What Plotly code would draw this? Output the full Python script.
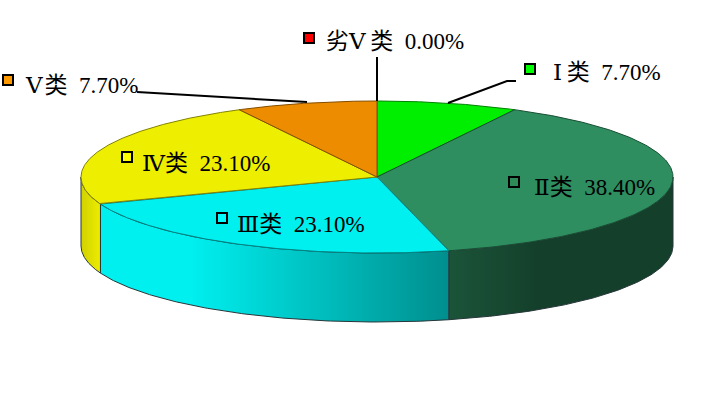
"""
3D style pie of water quality classes, drawn as filled scatter polygons
because plotly has no tilted pie.
"""

import numpy as np
import plotly.graph_objects as go

categories = ["Ⅰ\u2009类", "Ⅱ类", "Ⅲ类", "Ⅳ类", "Ⅴ\u200a类", "劣Ⅴ\u2009类"]
shares = [7.7, 38.4, 23.1, 23.1, 7.7, 0.0]
top_colors = ["#00ee00", "#2e8e60", "#00f0f0", "#eeee00", "#ee8c00", "#ee0000"]
key_colors = ["#00ff00", "#2e8b57", "#00ffff", "#ffff00", "#ff9900", "#ff0000"]

# pie geometry, in picture pixels
CX, CY = 377, 177
RX, RY = 296, 76
DEPTH = 69

# where each label goes: key square x, y then text x, y
label_pos = [
    (530, 69, 551, 72),
    (514, 182, 532, 187),
    (222, 218, 235, 224),
    (127, 157, 140, 163),
    (8, 80, 23, 85),
    (309, 38, 324, 41),
]

leaders = [
    ([448, 507, 516], [103, 81, 81]),
    ([137, 307], [92, 102]),
    ([377, 377], [57, 101]),
]


def rim(deg):
    rad = np.radians(deg)
    return CX + RX * np.sin(rad), CY - RY * np.cos(rad)


def to_rgb(hex_color):
    return [int(hex_color[i : i + 2], 16) for i in (1, 3, 5)]


def shade(hex_color, x):
    # side wall gets darker going to the right, flat at the far right
    k = np.interp(x, [81, 101, 190, 540], [0.88, 1.0, 1.0, 0.45])
    return "rgb({},{},{})".format(*[int(c * k) for c in to_rgb(hex_color)])


def darker(hex_color, k=0.55):
    return "rgb({},{},{})".format(*[int(c * k) for c in to_rgb(hex_color)])


def main():
    fig = go.Figure()
    ends = np.cumsum(shares) / sum(shares) * 360
    starts = np.concatenate([[0], ends[:-1]])

    # side wall, only the front half of the pie shows
    for start, end, color in zip(starts, ends, top_colors):
        a, b = max(start, 90), min(end, 270)
        if b <= a:
            continue
        x, y = rim(np.linspace(a, b, 120))
        lo, hi = x.min(), x.max()
        stops = np.linspace(0, 1, 24)
        fig.add_trace(
            go.Scatter(
                x=np.concatenate([x, x[::-1], x[:1]]),
                y=np.concatenate([y, y[::-1] + DEPTH, y[:1]]),
                mode="lines",
                fill="toself",
                fillgradient=dict(
                    type="horizontal",
                    start=lo,
                    stop=hi,
                    colorscale=[[s, shade(color, lo + s * (hi - lo))] for s in stops],
                ),
                line=dict(color="#26363a", width=1),
                hoverinfo="skip",
                showlegend=False,
            )
        )

    # top face
    for start, end, color in zip(starts, ends, top_colors):
        if end <= start:
            continue
        x, y = rim(np.linspace(start, end, 200))
        fig.add_trace(
            go.Scatter(
                x=np.concatenate([[CX], x, [CX]]),
                y=np.concatenate([[CY], y, [CY]]),
                mode="lines",
                fill="toself",
                fillcolor=color,
                line=dict(color=darker(color), width=1),
                hoverinfo="skip",
                showlegend=False,
            )
        )

    for xs, ys in leaders:
        fig.add_trace(
            go.Scatter(
                x=xs,
                y=ys,
                mode="lines",
                line=dict(color="black", width=2),
                hoverinfo="skip",
                showlegend=False,
            )
        )

    # labels
    for name, share, key, pos in zip(categories, shares, key_colors, label_pos):
        fig.add_trace(
            go.Scatter(
                x=[pos[0]],
                y=[pos[1]],
                mode="markers",
                marker=dict(
                    symbol="square",
                    size=10,
                    color=key,
                    line=dict(color="black", width=2),
                ),
                hoverinfo="skip",
                showlegend=False,
            )
        )
        fig.add_annotation(
            x=pos[2],
            y=pos[3],
            text=f"{name}\u2002{share:.2f}%",
            showarrow=False,
            xanchor="left",
            yanchor="middle",
            font=dict(
                family="Liberation Serif, DejaVu Serif, Noto Sans CJK SC",
                size=23,
                color="black",
            ),
        )

    fig.update_layout(
        width=703,
        height=407,
        margin=dict(l=0, r=0, t=0, b=0),
        paper_bgcolor="white",
        plot_bgcolor="white",
        xaxis=dict(visible=False, range=[0, 703]),
        yaxis=dict(visible=False, range=[407, 0]),
    )
    fig.write_html(
        "out.html",
        config=dict(displayModeBar=False),
        post_script="document.body.style.margin='0';",
    )


if __name__ == "__main__":
    main()
